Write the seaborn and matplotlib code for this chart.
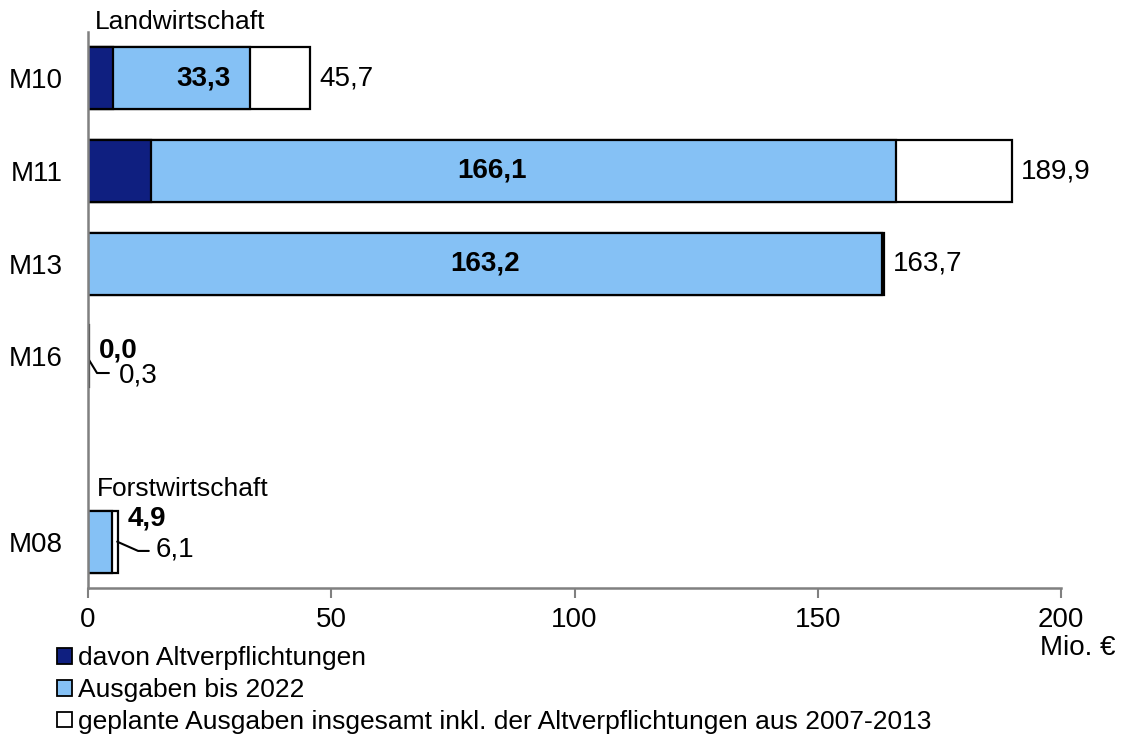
import numpy as np
import pandas as pd
import matplotlib
matplotlib.use("Agg")
import matplotlib.pyplot as plt
import seaborn as sns
from matplotlib.patches import Patch

# data
categories = ["M10", "M11", "M13", "M16", "M08"]
order = ["M10", "M11", "M13", "M16", " ", "M08"]
altverpflichtungen = [5.1, 12.9, 0.0, 0.0, 0.0]
ausgaben = [33.3, 166.1, 163.2, 0.0, 4.9]
geplant = [45.7, 189.9, 163.7, 0.3, 6.1]
x_ticks = [0, 50, 100, 150, 200]

legend_labels = ["davon Altverpflichtungen", "Ausgaben bis 2022",
                 "geplante Ausgaben insgesamt inkl. der Altverpflichtungen aus 2007-2013"]
c_dark = "#0f1f80"
c_light = "#85c1f5"

df = pd.DataFrame({"cat": categories, "alt": altverpflichtungen,
                   "ausg": ausgaben, "plan": geplant})

sns.set_style("ticks")
plt.rcParams["font.family"] = ["Liberation Sans", "DejaVu Sans"]
plt.rcParams["text.color"] = "black"
plt.rcParams["xtick.labelcolor"] = "black"
plt.rcParams["ytick.labelcolor"] = "black"

fs = 20

fig = plt.figure(figsize=(11.23, 7.35), dpi=100)
ax = fig.add_axes([88 / 1123, 1 - 588 / 735, (1061 - 88) / 1123, (588 - 32) / 735])

bw = 0.67
kw = dict(y="cat", order=order, orient="h", width=bw, edgecolor="black",
          linewidth=1.6, ax=ax, errorbar=None)
sns.barplot(data=df, x="plan", color="white", saturation=1, **kw)
sns.barplot(data=df, x="ausg", color=c_light, saturation=1, **kw)
sns.barplot(data=df[df["alt"] > 0], x="alt", color=c_dark, saturation=1, **kw)

ax.set_xlim(0, 200)
ax.set_ylim(5.5, -0.5)
ax.set_xticks(x_ticks)
ax.set_xlabel("")
ax.set_ylabel("")
ax.tick_params(axis="x", labelsize=fs, length=7, width=1.5, color="#808080", pad=7)
ax.tick_params(axis="y", labelsize=fs, length=0, pad=18)
for s in ["top", "right"]:
    ax.spines[s].set_visible(False)
for s in ["left", "bottom"]:
    ax.spines[s].set_color("#808080")
    ax.spines[s].set_linewidth(1.8)

# value labels
pos = {c: order.index(c) for c in categories}
for c, a, p in zip(categories, ausgaben, geplant):
    y = pos[c]
    txt_a = f"{a:.1f}".replace(".", ",")
    txt_p = f"{p:.1f}".replace(".", ",")
    if c in ("M10", "M11", "M13"):
        xa = 23.8 if c == "M10" else a / 2
        ax.text(xa, y, txt_a, ha="center", va="center", fontsize=fs, fontweight="bold")
        ax.text(p + 1.8, y, txt_p, ha="left", va="center", fontsize=fs)

# small bars with leader lines
y16 = pos["M16"]
ax.text(2.2, y16 - 0.06, "0,0", ha="left", va="center", fontsize=fs, fontweight="bold")
ax.plot([0.1, 1.85, 4.3], [y16 + 0.03, y16 + 0.18, y16 + 0.18], color="black", lw=1.5)
ax.text(6.4, y16 + 0.21, "0,3", ha="left", va="center", fontsize=fs)

y08 = pos["M08"]
ax.text(8.2, y08 - 0.25, "4,9", ha="left", va="center", fontsize=fs, fontweight="bold")
ax.plot([6.0, 10.3, 12.5], [y08, y08 + 0.1, y08 + 0.1], color="black", lw=1.5)
ax.text(13.8, y08 + 0.08, "6,1", ha="left", va="center", fontsize=fs)

# group titles
ax.text(1.4, -0.61, "Landwirtschaft", ha="left", va="center", fontsize=19, clip_on=False)
ax.text(1.8, y08 - 0.57, "Forstwirtschaft", ha="left", va="center", fontsize=19)

fig.text(1116 / 1123, 1 - 648 / 735, "Mio. €", ha="right", va="center", fontsize=fs)

handles = [Patch(facecolor=c_dark, edgecolor="black", lw=1.3),
           Patch(facecolor=c_light, edgecolor="black", lw=1.3),
           Patch(facecolor="white", edgecolor="black", lw=1.3)]
fig.legend(handles, legend_labels, loc="upper left", bbox_to_anchor=(57 / 1123, 1 - 646 / 735),
           frameon=False, fontsize=19, handlelength=0.55, handleheight=0.55,
           handletextpad=0.25, labelspacing=0.3, borderpad=0, borderaxespad=0)

plt.savefig("out.png", dpi=100)
